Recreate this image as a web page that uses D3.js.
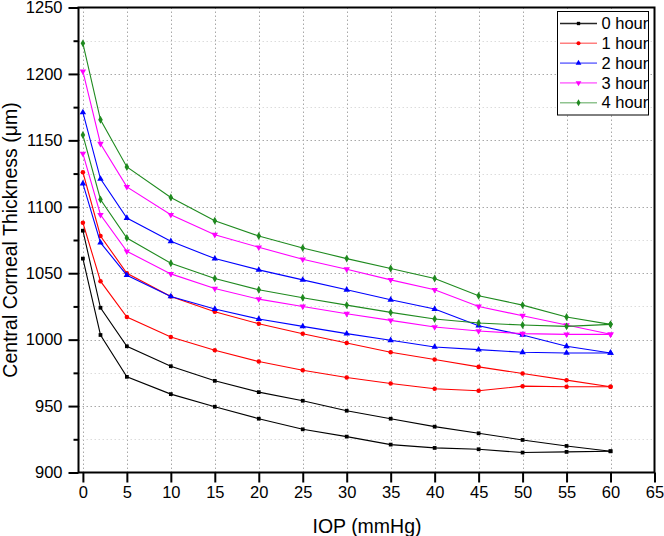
<!DOCTYPE html>
<html><head><meta charset="utf-8">
<script src="https://cdn.jsdelivr.net/npm/d3@7/dist/d3.min.js"></script>
<style>body{margin:0;background:#fff}svg{display:block}text{font-family:"Liberation Sans",Arial,sans-serif}</style>
</head><body><svg id="c" width="664" height="536"></svg>
<script>
const iop = [0, 2, 5, 10, 15, 20, 25, 30, 35, 40, 45, 50, 55, 60];
const seriesNames = ["0 hour", "1 hour", "2 hour", "3 hour", "4 hour"];
const hour0Upper = [1082, 1024, 995, 980, 969, 960.5, 954, 946.5, 940.5, 934.5, 929.5, 924.5, 920, 916];
const hour0Lower = [1061, 1003.5, 972, 959, 949.5, 940.5, 932.5, 927, 921, 918.5, 917.5, 915, 915.5, 916];
const hour1Upper = [1126, 1078, 1050, 1032.5, 1021, 1012, 1004.5, 997.5, 990.5, 985, 979.5, 974.5, 969.5, 964.5];
const hour1Lower = [1088, 1044, 1017, 1002, 992, 983.5, 977, 971.5, 967, 963, 961.5, 965, 964.5, 964.5];
const hour2Upper = [1171, 1121, 1091.5, 1074, 1061, 1052.5, 1045, 1037.5, 1030, 1023, 1010.5, 1003.5, 995, 990];
const hour2Lower = [1117.5, 1073, 1048.5, 1032.5, 1023, 1015.5, 1010, 1004.5, 999.5, 994.5, 992.5, 990.5, 990, 990];
const hour3Upper = [1202, 1147.5, 1115, 1094, 1079, 1069.5, 1060.5, 1053, 1045, 1037.5, 1025, 1018, 1011, 1004];
const hour3Lower = [1140, 1094, 1066.5, 1049.5, 1038.5, 1030.5, 1025, 1019.5, 1014.5, 1009.5, 1006.5, 1004.5, 1004, 1004];
const hour4Upper = [1223, 1165.5, 1130, 1107, 1089.5, 1078, 1069, 1061, 1053.5, 1046, 1033, 1026, 1017, 1011.5];
const hour4Lower = [1154, 1105.5, 1076.5, 1057.5, 1046, 1037.5, 1031.5, 1026, 1020.5, 1015.5, 1012.5, 1011, 1010, 1011.5];
const xTicks = [0, 5, 10, 15, 20, 25, 30, 35, 40, 45, 50, 55, 60, 65];
const yTicks = [900, 950, 1000, 1050, 1100, 1150, 1200, 1250];
const yMinorTicks = [925, 975, 1025, 1075, 1125, 1175, 1225];

const series = [
  {name: seriesNames[0], color: "#000000", sym: d3.symbolSquare, size: 14, lines: [hour0Upper, hour0Lower]},
  {name: seriesNames[1], color: "#ff0000", sym: d3.symbolCircle, size: 16, lines: [hour1Upper, hour1Lower]},
  {name: seriesNames[2], color: "#0000ff", sym: d3.symbolTriangle, size: 18, lines: [hour2Upper, hour2Lower]},
  {name: seriesNames[3], color: "#ff00ff", sym: d3.symbolTriangle, rot: 180, size: 18, lines: [hour3Upper, hour3Lower]},
  {name: seriesNames[4], color: "#1f8a1f", sym: d3.symbolDiamond, size: 18, lines: [hour4Upper, hour4Lower]}
];

const L = 78.5, R = 654.5, T = 7.5, B = 472.5;
const x = d3.scaleLinear().domain([-0.5, 65]).range([L, R]);
const y = d3.scaleLinear().domain([900, 1250]).range([B, T]);
const svg = d3.select("#c");

// grid
const g = svg.append("g");
g.selectAll(".vg").data(xTicks.filter(d => d < 65)).enter().append("line")
  .attr("x1", d => Math.round(x(d)) + 0.5).attr("x2", d => Math.round(x(d)) + 0.5)
  .attr("y1", T).attr("y2", B).attr("stroke", "#a8a8a8").attr("stroke-dasharray", "1.5,2.5");
g.selectAll(".hg").data(yTicks.filter(d => d > 900 && d < 1250)).enter().append("line")
  .attr("x1", L).attr("x2", R).attr("y1", d => Math.round(y(d)) + 0.5).attr("y2", d => Math.round(y(d)) + 0.5)
  .attr("stroke", "#a8a8a8").attr("stroke-dasharray", "1.5,2.5");
g.selectAll(".hm").data(yMinorTicks).enter().append("line")
  .attr("x1", L).attr("x2", R).attr("y1", d => Math.round(y(d)) + 0.5).attr("y2", d => Math.round(y(d)) + 0.5)
  .attr("stroke", "#dcdcdc").attr("stroke-dasharray", "1.5,2.5");

// lines and markers
const line = d3.line().x((d, i) => x(iop[i])).y(d => y(d));
series.forEach(s => {
  s.lines.forEach(vals => {
    svg.append("path").datum(vals).attr("d", line).attr("fill", "none")
      .attr("stroke", s.color).attr("stroke-width", 1.1);
    svg.selectAll(null).data(vals).enter().append("path")
      .attr("d", d3.symbol().type(s.sym).size(s.size))
      .attr("transform", (d, i) => `translate(${x(iop[i])},${y(d)})` + (s.rot ? ` rotate(${s.rot})` : ""))
      .attr("fill", s.color);
  });
});

// axes
const xAxis = d3.axisBottom(x).tickValues(xTicks).tickSize(10).tickSizeOuter(0).tickPadding(4);
const gx = svg.append("g").attr("transform", `translate(0,${B})`).call(xAxis);
gx.select(".domain").remove();
gx.selectAll("line").attr("stroke-width", 2);
gx.selectAll("text").attr("font-size", 16.5).attr("fill", "#000").attr("font-family", "Liberation Sans, Arial, sans-serif");

const yAxis = d3.axisLeft(y).tickValues(yTicks).tickFormat(d3.format("d")).tickSize(10).tickSizeOuter(0).tickPadding(6);
const gy = svg.append("g").attr("transform", `translate(${L},0)`).call(yAxis);
gy.select(".domain").remove();
gy.selectAll("line").attr("stroke-width", 2);
gy.selectAll("text").attr("font-size", 16.5).attr("fill", "#000").attr("font-family", "Liberation Sans, Arial, sans-serif");
const yMinor = d3.axisLeft(y).tickValues(yMinorTicks).tickSize(5).tickFormat("");
const gym = svg.append("g").attr("transform", `translate(${L},0)`).call(yMinor);
gym.select(".domain").remove();
gym.selectAll("line").attr("stroke-width", 2);

// frame
svg.append("rect").attr("x", L).attr("y", T).attr("width", R - L).attr("height", B - T)
  .attr("fill", "none").attr("stroke", "#000").attr("stroke-width", 2);

// titles
svg.append("text").attr("x", 367).attr("y", 533).attr("text-anchor", "middle")
  .attr("font-size", 19.5).text("IOP (mmHg)");
svg.append("text").attr("transform", `translate(16.5,${(T + B) / 2}) rotate(-90)`)
  .attr("text-anchor", "middle").attr("font-size", 19.5).text("Central Corneal Thickness (μm)");

// legend
const lg = svg.append("g");
lg.append("rect").attr("x", 557.5).attr("y", 11.5).attr("width", 91).attr("height", 103.5)
  .attr("fill", "#fff").attr("stroke", "#000").attr("stroke-width", 1);
series.forEach((s, i) => {
  const cy = 23.5 + i * 19.8;
  lg.append("line").attr("x1", 560).attr("x2", 597).attr("y1", cy).attr("y2", cy)
    .attr("stroke", s.color).attr("stroke-width", 1.6).attr("stroke-opacity", i === 0 ? 0.85 : 0.5);
  lg.append("path").attr("d", d3.symbol().type(s.sym).size(s.size * 0.8))
    .attr("transform", `translate(578.5,${cy})` + (s.rot ? ` rotate(${s.rot})` : "")).attr("fill", s.color);
  lg.append("text").attr("x", 601.5).attr("y", cy).attr("dy", "0.35em").attr("font-size", 16.5).text(s.name);
});
</script></body></html>
